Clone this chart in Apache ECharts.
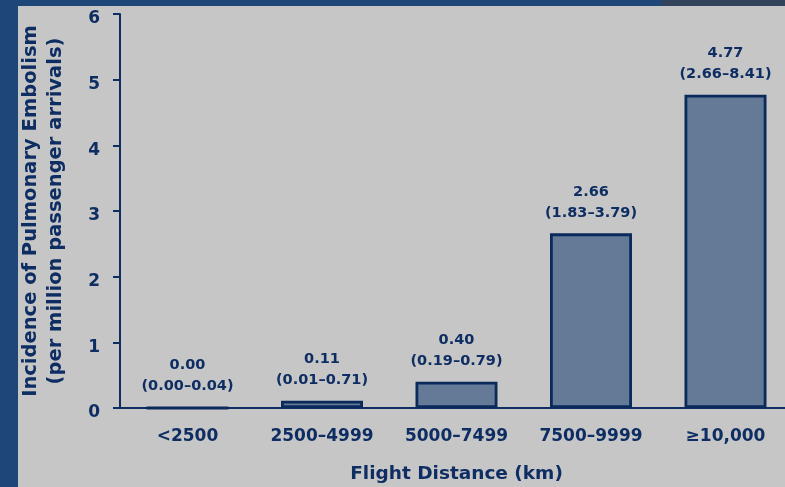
<!DOCTYPE html>
<html><head><meta charset="utf-8">
<script src="https://cdn.jsdelivr.net/npm/echarts@6/dist/echarts.min.js"></script>
<style>html,body{margin:0;padding:0;background:#c6c6c6;}#c{width:785px;height:487px;}</style>
</head><body><div id="c"></div>
<script>
const categories = ['<2500', '2500–4999', '5000–7499', '7500–9999', '\u226510,000'];
const incidence = [0.00, 0.11, 0.40, 2.66, 4.77];
const ciLow = ['0.00', '0.01', '0.19', '1.83', '2.66'];
const ciHigh = ['0.04', '0.71', '0.79', '3.79', '8.41'];
const yTicks = [0, 1, 2, 3, 4, 5, 6];

const navy = '#0e2d62';
const font = '"DejaVu Sans", sans-serif';
const chart = echarts.init(document.getElementById('c'), null, {renderer: 'canvas'});
chart.setOption({
  backgroundColor: '#c6c6c6',
  animation: false,
  graphic: [
    {type: 'rect', shape: {x: 0, y: 0, width: 18, height: 487}, style: {fill: '#1e4677'}, z: 10},
    {type: 'rect', shape: {x: 0, y: 0, width: 785, height: 6}, style: {fill: '#1e4677'}, z: 10},
    {type: 'rect', shape: {x: 662, y: 0, width: 123, height: 6}, style: {fill: '#33435c'}, z: 11}
  ],
  grid: [
    {left: 120, top: 14, right: 0, height: 394, containLabel: false, outerBoundsMode: 'none'},
    {left: 187.5, top: 14, right: 59.5, height: 394, containLabel: false, outerBoundsMode: 'none'}
  ],
  xAxis: [
    {
      gridIndex: 0, type: 'value', min: 0, max: 1,
      axisLine: {show: true, lineStyle: {color: navy, width: 2}},
      axisTick: {show: false}, axisLabel: {show: false}, splitLine: {show: false}
    },
    {
      gridIndex: 1,
      type: 'category',
      boundaryGap: false,
      data: categories,
      name: 'Flight Distance (km)',
      nameLocation: 'middle',
      nameGap: 57,
      nameTextStyle: {color: navy, fontSize: 18.5, fontWeight: 'bold', fontFamily: font},
      axisLine: {show: false},
      axisTick: {show: false},
      axisLabel: {color: navy, fontSize: 17, fontWeight: 'bold', fontFamily: font, margin: 20},
      splitLine: {show: false}
    }
  ],
  yAxis: [
    {
      gridIndex: 0,
      type: 'value',
      min: 0, max: 6, interval: 1,
      name: '{a|Incidence of Pulmonary Embolism}\n{a|(per million passenger arrivals)}',
      nameLocation: 'middle',
      nameGap: 52,
      nameRotate: 90,
      nameTextStyle: {color: navy, fontSize: 19.5, fontWeight: 'bold', fontFamily: font, lineHeight: 25,
        rich: {a: {color: navy, fontSize: 19.5, fontWeight: 'bold', fontFamily: font, lineHeight: 25}}},
      axisLine: {show: true, lineStyle: {color: navy, width: 2}},
      axisTick: {show: true, inside: false, length: 7, lineStyle: {color: navy, width: 2}},
      axisLabel: {color: navy, fontSize: 17, fontWeight: 'bold', fontFamily: font, margin: 20,
        formatter: v => yTicks.includes(v) ? '{v|' + v + '}' : '',
        rich: {v: {color: navy, fontSize: 17, fontWeight: 'bold', fontFamily: font, padding: [10, 0, 0, 0]}}},
      splitLine: {show: false}
    },
    {gridIndex: 1, type: 'value', min: 0, max: 6, interval: 1, show: false}
  ],
  series: [{
    type: 'bar',
    xAxisIndex: 1,
    yAxisIndex: 1,
    clip: false,
    data: incidence,
    barWidth: 82,
    itemStyle: {color: '#647a96', borderColor: '#0b2a5c', borderWidth: 2.8},
    label: {
      show: true,
      position: 'top',
      distance: 10,
      color: navy,
      fontSize: 14.5,
      fontWeight: 'bold',
      fontFamily: font,
      lineHeight: 21,
      formatter: p => incidence[p.dataIndex].toFixed(2) + '\n(' + ciLow[p.dataIndex] + '–' + ciHigh[p.dataIndex] + ')'
    }
  }]
});
</script></body></html>
